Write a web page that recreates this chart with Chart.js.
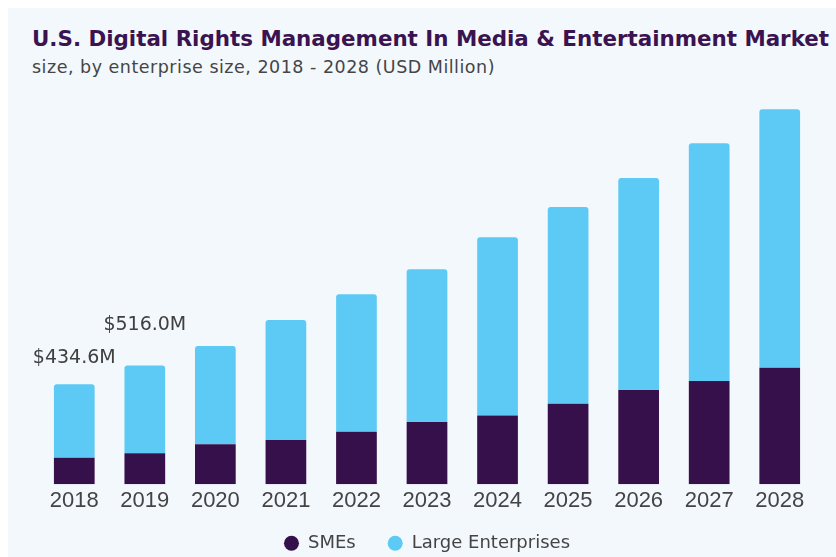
<!DOCTYPE html>
<html>
<head>
<meta charset="utf-8">
<script src="https://cdn.jsdelivr.net/npm/chart.js@4.4.0/dist/chart.umd.min.js"></script>
<style>
  html, body { margin: 0; padding: 0; background: #ffffff; overflow: hidden; }
  #panel { position: absolute; left: 8px; top: 8px; width: 828px; height: 549px; background: #f3f8fc; }
  #title { position: absolute; left: 32px; top: 27px; font-family: 'DejaVu Sans'; font-weight: bold; font-size: 21.4px; line-height: 1.164; color: #3a1350; white-space: nowrap; }
  #subtitle { position: absolute; left: 32px; top: 56.5px; font-family: 'DejaVu Sans'; font-size: 17.5px; line-height: 1.164; letter-spacing: 0.5px; color: #454545; white-space: nowrap; }
  #wrap { position: absolute; left: 0; top: 0; width: 836px; height: 557px; }
</style>
</head>
<body>
<div id="panel"></div>
<div id="title">U.S. Digital Rights Management In Media &amp; Entertainment Market</div>
<div id="subtitle">size, by enterprise size, 2018 - 2028 (USD Million)</div>
<div id="wrap"><canvas id="c"></canvas></div>
<script>
const years = ['2018','2019','2020','2021','2022','2023','2024','2025','2026','2027','2028'];
const smes = [115.0, 134.5, 173.6, 192.0, 228.0, 270.0, 299.0, 350.0, 409.0, 448.0, 506.0];
const largeEnterprises = [319.6, 381.5, 426.4, 521.0, 597.0, 663.0, 773.0, 853.0, 920.0, 1032.0, 1122.0];
const totalLabels = ['$434.6M', '$516.0M'];
const labelGap = [21, 35];

const COLOR_SME = '#36104a';
const COLOR_LARGE = '#5ccaf5';

const totalLabelPlugin = {
  id: 'totalLabels',
  afterLayout(chart) {
    // let the x tick labels extend into the legend's empty top padding
    const xs = chart.scales.x;
    xs.bottom = xs.top + 40;
  },
  afterDatasetsDraw(chart) {
    const ctx = chart.ctx;
    const x = chart.scales.x, y = chart.scales.y;
    ctx.save();
    ctx.font = '19px "DejaVu Sans"';
    ctx.fillStyle = '#404040';
    ctx.textAlign = 'center';
    ctx.textBaseline = 'alphabetic';
    totalLabels.forEach((t, i) => {
      const total = smes[i] + largeEnterprises[i];
      ctx.fillText(t, x.getPixelForValue(i), y.getPixelForValue(total) - labelGap[i]);
    });
    ctx.restore();
  }
};

new Chart(document.getElementById('c'), {
  type: 'bar',
  data: {
    labels: years,
    datasets: [
      { label: 'SMEs', data: smes, backgroundColor: COLOR_SME, borderRadius: 0 },
      { label: 'Large Enterprises', data: largeEnterprises, backgroundColor: COLOR_LARGE, borderRadius: 3, borderSkipped: 'start' }
    ]
  },
  options: {
    responsive: true,
    maintainAspectRatio: false,
    animation: false,
    datasets: { bar: { categoryPercentage: 1.0, barPercentage: 0.577 } },
    layout: { padding: { left: 39, right: 21, top: 92.6, bottom: -5.3 } },
    scales: {
      x: {
        stacked: true,
        grid: { display: false, drawTicks: false },
        border: { display: false },
        ticks: { color: '#444444', font: { family: 'Liberation Sans', size: 22, lineHeight: 1.0 }, padding: 6, maxRotation: 0 },
        afterFit(scale) { scale.height = 18; }
      },
      y: {
        stacked: true,
        display: false,
        min: 0,
        max: 1700
      }
    },
    plugins: {
      legend: {
        position: 'bottom',
        labels: {
          usePointStyle: true,
          pointStyle: 'circle',
          pointStyleWidth: 15,
          boxHeight: 10.6,
          padding: 32,
          color: '#444444',
          font: { family: 'DejaVu Sans', size: 18 }
        }
      },
      tooltip: { enabled: false },
      title: { display: false }
    }
  },
  plugins: [totalLabelPlugin]
});
</script>
</body>
</html>
